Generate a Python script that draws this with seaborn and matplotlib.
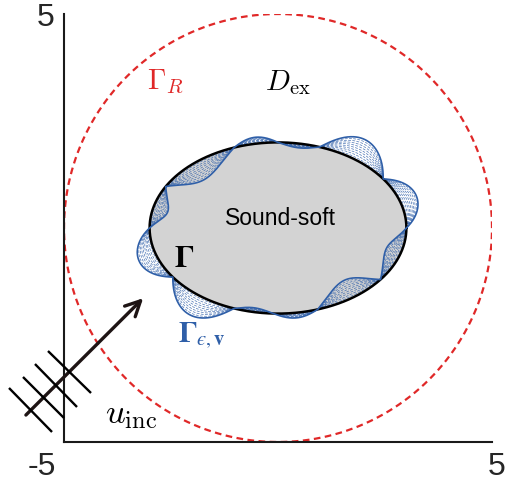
import numpy as np
import pandas as pd
import matplotlib
matplotlib.use("Agg")
import matplotlib.pyplot as plt
import seaborn as sns

# ---- geometry / data ----
R_outer = 5.0                 # radius of Gamma_R
ellipse_a = 3.0               # semi-axes of the sound-soft obstacle
ellipse_b = 2.0
# zero crossings (deg) of the normal perturbation v and bump amplitudes between them
v_nodes_deg = [0, 35, 71, 90, 110, 151, 180, 215, 250, 268, 288, 323, 360]
v_amps = [0.40, 0.52, -0.10, 0.15, -0.45, -0.35, 0.42, 0.50, -0.10, 0.12, -0.45, -0.35]
eps_levels = [0.1, 0.2, 0.3, 0.4, 0.5, 0.6, 0.7, 0.8, 0.9]   # dashed intermediate curves
eps_full = 1.0

# incident wave annotation (data coords)
arrow_start = (-5.89, -4.37)
arrow_end = (-3.15, -1.64)
wave_lines = [
    [(-6.285, -3.738), (-5.280, -4.766)],
    [(-5.958, -3.481), (-5.000, -4.439)],
    [(-5.678, -3.178), (-4.696, -4.182)],
    [(-5.374, -2.874), (-4.369, -3.855)],
]
tick_vals = [-5, 5]

# ---- styling ----
sns.set_theme(style="white")
plt.rcParams['font.family'] = ['Liberation Sans', 'DejaVu Sans']
plt.rcParams['mathtext.fontset'] = 'cm'

W, H = 506, 488
fig = plt.figure(figsize=(W / 100, H / 100), dpi=100)
ax = fig.add_axes([64 / W, (H - 442) / H, 428 / W, 428 / H])
ax.set_xlim(-5, 5)
ax.set_ylim(-5, 5)

t = np.linspace(0, 2 * np.pi, 1441)

# red dashed circle Gamma_R
red = "#e02828"
circ = pd.DataFrame({"x": R_outer * np.cos(t), "y": R_outer * np.sin(t)})
sns.lineplot(data=circ, x="x", y="y", sort=False, estimator=None, ax=ax,
             color=red, lw=1.6, linestyle=(0, (3, 2)), zorder=1)

# ellipse
ex = ellipse_a * np.cos(t)
ey = ellipse_b * np.sin(t)
ax.fill(ex, ey, color="#d3d3d3", zorder=2, lw=0)

# perturbation v(t) along the outward normal
td = np.degrees(t)
v = np.zeros_like(t)
for i, amp in enumerate(v_amps):
    a0, a1 = v_nodes_deg[i], v_nodes_deg[i + 1]
    m = (td >= a0) & (td <= a1)
    v[m] = amp * np.sin(np.pi * (td[m] - a0) / (a1 - a0))
nx = ellipse_b * np.cos(t)
ny = ellipse_a * np.sin(t)
nn = np.hypot(nx, ny)
nx, ny = nx / nn, ny / nn

blue = "#2f5fa8"
for e in eps_levels:
    d = pd.DataFrame({"x": ex + e * v * nx, "y": ey + e * v * ny})
    sns.lineplot(data=d, x="x", y="y", sort=False, estimator=None, ax=ax,
                 color=blue, lw=0.5, linestyle=(0, (4, 2)), alpha=0.85, zorder=3)

ell = pd.DataFrame({"x": ex, "y": ey})
sns.lineplot(data=ell, x="x", y="y", sort=False, estimator=None, ax=ax,
             color="black", lw=1.8, zorder=4)

full = pd.DataFrame({"x": ex + eps_full * v * nx, "y": ey + eps_full * v * ny})
sns.lineplot(data=full, x="x", y="y", sort=False, estimator=None, ax=ax,
             color=blue, lw=1.2, zorder=5)

# incident wave
arrow_col = "#1e1414"
ax.annotate("", xy=arrow_end, xytext=arrow_start, annotation_clip=False,
            arrowprops=dict(arrowstyle="->,head_length=0.9,head_width=0.45",
                            lw=2.4, color=arrow_col, shrinkA=0, shrinkB=0), zorder=6)
for (p0, p1) in wave_lines:
    ax.plot([p0[0], p1[0]], [p0[1], p1[1]], color="black", lw=1.7,
            clip_on=False, zorder=6, solid_capstyle="butt")

# labels
ax.text(-2.64, 3.41, r"$\Gamma_R$", color=red, fontsize=21, ha="center", va="center")
ax.text(0.23, 3.41, r"$D_{\rm ex}$", color="black", fontsize=21, ha="center", va="center")
ax.text(0.05, 0.23, "Sound-soft", color="black", fontsize=16.5, ha="center", va="center")
ax.text(-2.20, -0.72, r"$\mathbf{\Gamma}$", color="black", fontsize=22, ha="center",
        va="center", math_fontfamily="stix")
ax.text(-1.78, -2.52, "$\\mathbf{\\Gamma}_{\u03f5,\\mathbf{v}}$", color=blue, fontsize=21,
        ha="center", va="center", math_fontfamily="stix")
ax.text(-3.43, -4.35, r"$u_{\rm inc}$", color="black", fontsize=25, ha="center", va="center")

# axes look: left & bottom spines, tick labels only at +-5
for s in ["top", "right"]:
    ax.spines[s].set_visible(False)
for s in ["left", "bottom"]:
    ax.spines[s].set_color("#1a1a1a")
    ax.spines[s].set_linewidth(1.5)
ax.set_xticks(tick_vals)
ax.set_yticks([])
ax.tick_params(axis="x", direction="in", length=4, width=1.5, color="#1a1a1a",
               labelbottom=False)
ax.set_xlabel("")
ax.set_ylabel("")
lab_col = "#262626"
ax.text(-5.44, 4.91, str(tick_vals[1]), fontsize=23, color=lab_col, ha="center", va="center", clip_on=False)
ax.text(-5.51, -5.58, str(tick_vals[0]), fontsize=23, color=lab_col, ha="center", va="center", clip_on=False)
ax.text(5.11, -5.58, str(tick_vals[1]), fontsize=23, color=lab_col, ha="center", va="center", clip_on=False)

fig.savefig("out.png", dpi=100)
